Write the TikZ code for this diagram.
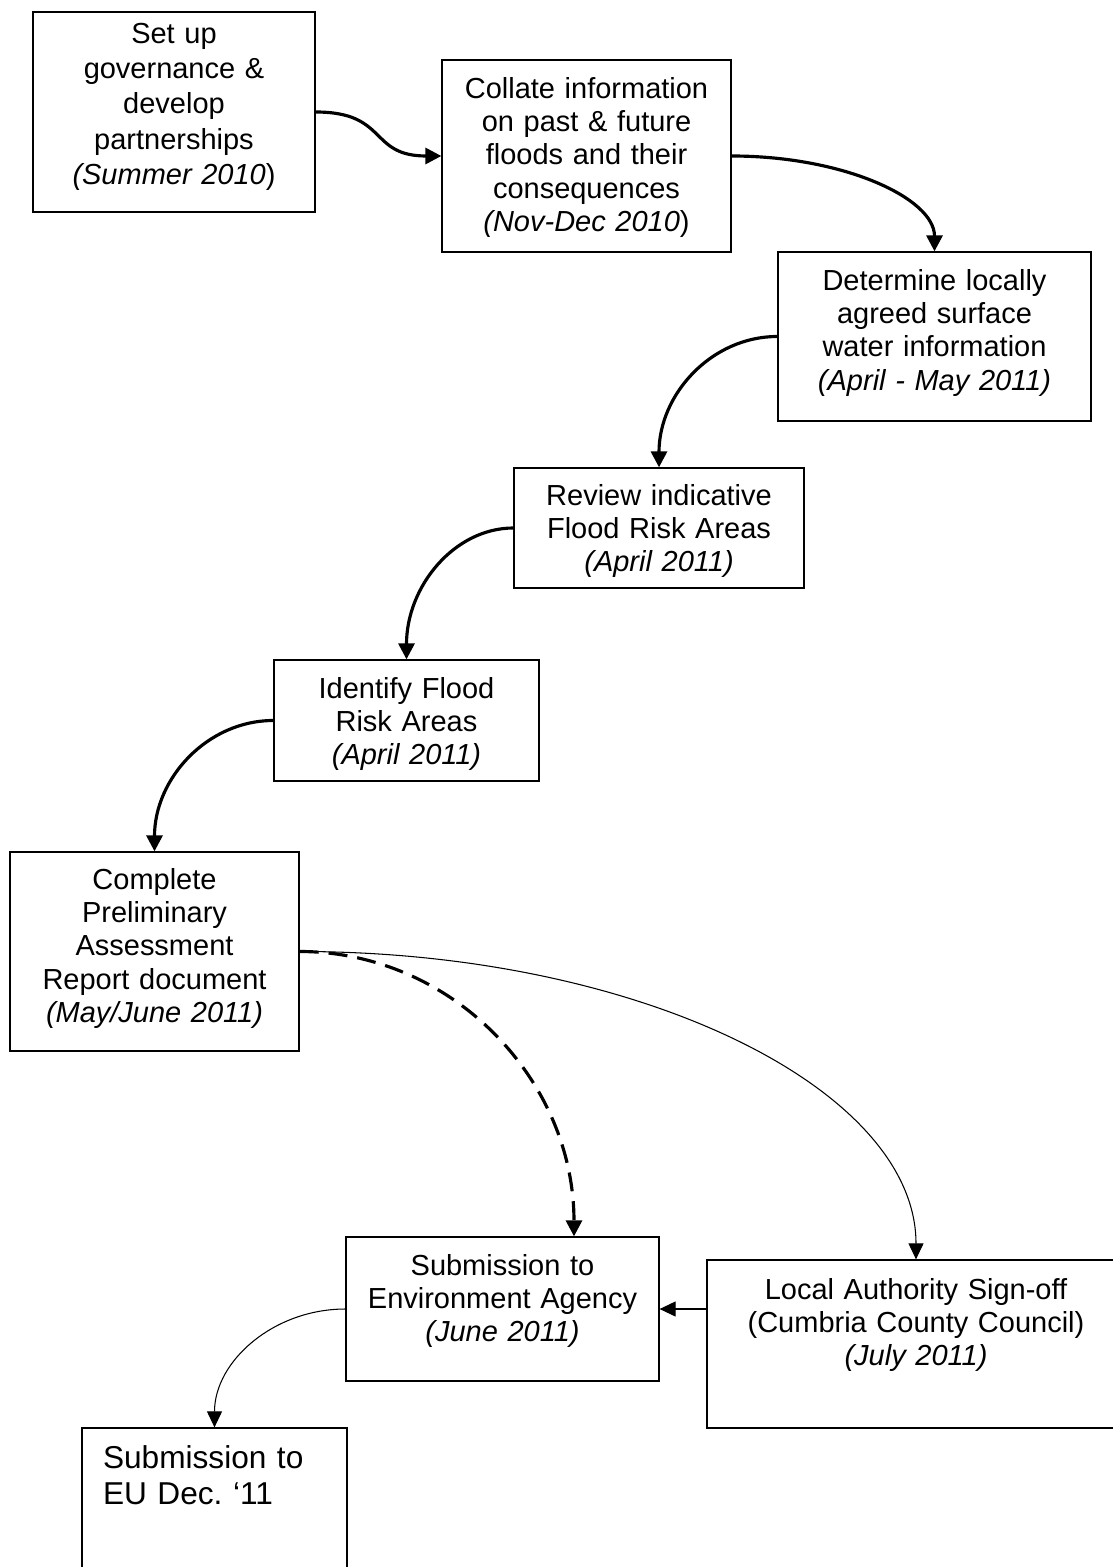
\documentclass[tikz,border=0pt]{standalone}
\usepackage{fontspec}
\setmainfont{Liberation Sans}
\usepackage{tikz}
\usetikzlibrary{arrows.meta, positioning, calc}

\begin{document}
\begin{tikzpicture}[
        x=0.02cm, y=-0.02cm,
        box/.style={rectangle, draw, line width=0.75pt, inner sep=0pt, align=center, font=\fontsize{16.5}{19}\selectfont},
        flow/.style={-{Triangle[length=0.32cm, width=0.32cm]}, line width=1.8pt},
        link/.style={-{Triangle[length=0.32cm, width=0.3cm]}, line width=0.6pt},
        maybe/.style={flow, dash pattern=on 0.38cm off 0.2cm}
    ]
        \useasboundingbox (0,0) rectangle (1112,1567);

        % Top row: governance, collation, surface water
        \node[box, text width=5.64cm, text height=0.62cm, text depth=3.38cm,
            font=\fontsize{16.5}{20.2}\selectfont] (gov) at (174,112)
            {Set up\\governance \&\\develop\\partnerships\\\textit{(Summer 2010})};
        \node[box, text width=5.78cm, text height=0.76cm, text depth=3.08cm] (collate) at (586.5,156)
            {Collate information\\on past \& future\\floods and their\\consequences\\\textit{(Nov-Dec 2010})};
        \node[box, text width=6.26cm, text height=0.76cm, text depth=2.62cm] (surface) at (934.5,336.5)
            {Determine locally\\agreed surface\\water information\\\textit{(April - May 2011)}};

        % Flood risk areas
        \node[box, text width=5.8cm, text height=0.74cm, text depth=1.66cm] (review) at (659,528)
            {Review indicative\\Flood Risk Areas\\\textit{(April 2011)}};
        \node[box, text width=5.3cm, text height=0.76cm, text depth=1.66cm] (identify) at (406.5,720.5)
            {Identify Flood\\Risk Areas\\\textit{(April 2011)}};

        % Report and submissions
        \node[box, text width=5.78cm, text height=0.74cm, text depth=3.24cm] (report) at (154.5,951.5)
            {Complete\\Preliminary\\Assessment\\Report document\\\textit{(May/June 2011)}};
        \node[box, text width=6.26cm, text height=0.76cm, text depth=2.12cm] (agency) at (502.5,1309)
            {Submission to\\Environment Agency\\\textit{(June 2011)}};
        \node[box, text width=8.36cm, text height=0.78cm, text depth=2.58cm] (signoff) at (916,1344)
            {Local Authority Sign-off\\(Cumbria County Council)\\\textit{(July 2011)}};
        \node[box, align=left, inner xsep=0.42cm, text width=4.46cm, text height=0.8cm, text depth=2.64cm,
            font=\fontsize{18}{21}\selectfont] (eu) at (214.5,1514)
            {Submission to\\EU Dec.\ ‘11};

        % Connectors
        \draw[flow] (gov.east) to[out=0, in=180, looseness=1.4] (collate.west);
        \draw[flow] (collate.east) .. controls +(112,0) and +(0,-53) .. (surface.north);
        \draw[flow] (surface.west) .. controls +(-66,0) and +(0,-73) .. (review.north);
        \draw[flow] (review.west) .. controls +(-59,0) and +(0,-73) .. (identify.north);
        \draw[flow] (identify.west) .. controls +(-66,0) and +(0,-73) .. (report.north);
        \draw[link] (report.east) .. controls +(341,0) and +(0,-170) .. (signoff.north);
        \draw[maybe] (report.east) .. controls +(152,0) and +(0,-157) .. ([xshift=1.43cm]agency.north);
        \draw[link] (signoff.west |- agency.east) -- (agency.east);
        \draw[link] (agency.west) .. controls +(-72,0) and +(0,-66) .. (eu.north);
    \end{tikzpicture}
\end{document}
